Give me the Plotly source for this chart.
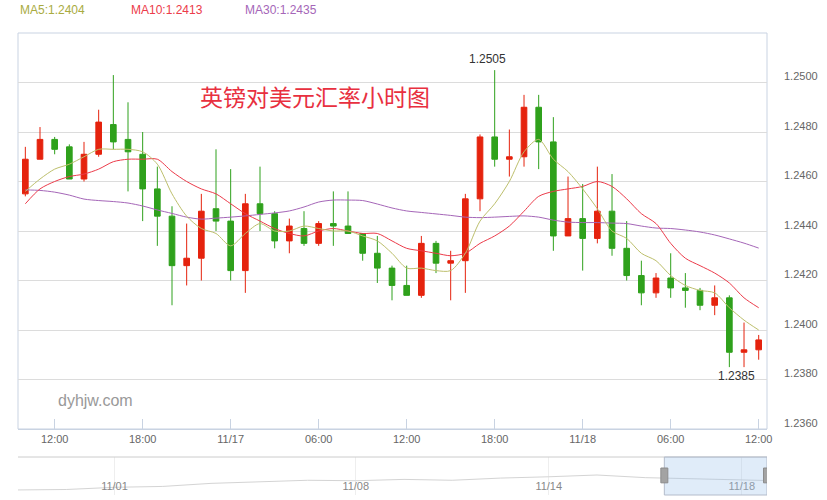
import pandas as pd
import plotly.graph_objects as go

# ---------------- data ----------------
times = pd.date_range("2016-11-16 10:00", periods=51, freq="h")

open_ = [1.2455, 1.2469, 1.2477, 1.2474, 1.2461, 1.2471, 1.2483, 1.2477, 1.2471, 1.2457,
         1.2446, 1.2426, 1.2429, 1.2449, 1.2444, 1.2424, 1.2451, 1.2447, 1.2436, 1.2441,
         1.2435, 1.2443, 1.2442, 1.2439, 1.2431, 1.2425, 1.2418, 1.2414, 1.2435, 1.2427,
         1.2428, 1.2453, 1.2478, 1.2469, 1.2470, 1.2490, 1.2476, 1.2438, 1.2445, 1.2437,
         1.2448, 1.2433, 1.2422, 1.2415, 1.2421, 1.2417, 1.2416, 1.2410, 1.2413, 1.2391, 1.2392]
high = [1.2474, 1.2482, 1.2478, 1.2475, 1.2476, 1.2489, 1.2503, 1.2492, 1.2480, 1.2466,
        1.2450, 1.2443, 1.2455, 1.2473, 1.2465, 1.2455, 1.2466, 1.2448, 1.2445, 1.2448,
        1.2444, 1.2456, 1.2456, 1.2439, 1.2438, 1.2426, 1.2426, 1.2438, 1.2436, 1.2432,
        1.2455, 1.2479, 1.2505, 1.2481, 1.2495, 1.2495, 1.2486, 1.2462, 1.2459, 1.2466,
        1.2463, 1.2444, 1.2428, 1.2423, 1.2431, 1.2423, 1.2417, 1.2418, 1.2414, 1.2403, 1.2398]
low = [1.2454, 1.2469, 1.2471, 1.2461, 1.2460, 1.2470, 1.2473, 1.2456, 1.2444, 1.2434,
       1.2410, 1.2418, 1.2420, 1.2440, 1.2420, 1.2415, 1.2440, 1.2433, 1.2431, 1.2434,
       1.2434, 1.2434, 1.2439, 1.2428, 1.2419, 1.2412, 1.2414, 1.2413, 1.2423, 1.2412,
       1.2415, 1.2448, 1.2466, 1.2462, 1.2466, 1.2465, 1.2432, 1.2438, 1.2424, 1.2435,
       1.2430, 1.2420, 1.2410, 1.2413, 1.2413, 1.2409, 1.2408, 1.2406, 1.2385, 1.2385, 1.2388]
close = [1.2469, 1.2477, 1.2473, 1.2461, 1.2471, 1.2484, 1.2476, 1.2472, 1.2457, 1.2446,
         1.2426, 1.2429, 1.2448, 1.2444, 1.2424, 1.2451, 1.2447, 1.2436, 1.2442, 1.2435,
         1.2443, 1.2442, 1.2439, 1.2431, 1.2425, 1.2418, 1.2414, 1.2435, 1.2427, 1.2428,
         1.2453, 1.2478, 1.2469, 1.2470, 1.2490, 1.2476, 1.2438, 1.2445, 1.2437, 1.2448,
         1.2433, 1.2422, 1.2415, 1.2421, 1.2417, 1.2416, 1.2410, 1.2413, 1.2391, 1.2392, 1.2396]

ma5 = [1.2456, 1.2461, 1.2465, 1.2467, 1.2470, 1.2473, 1.2473, 1.2473, 1.2472, 1.2467,
       1.2455, 1.2446, 1.2441, 1.2439, 1.2434, 1.2439, 1.2443, 1.2440, 1.2440, 1.2442,
       1.2441, 1.2440, 1.2440, 1.2438, 1.2436, 1.2431, 1.2425, 1.2425, 1.2424, 1.2424,
       1.2431, 1.2444, 1.2451, 1.2460, 1.2472, 1.2477, 1.2469, 1.2464, 1.2457, 1.2449,
       1.2440, 1.2437, 1.2431, 1.2428, 1.2422, 1.2418, 1.2416, 1.2415, 1.2409, 1.2404, 1.2400]
ma10 = [1.2451, 1.2457, 1.2460, 1.2462, 1.2463, 1.2465, 1.2468, 1.2469, 1.2469, 1.2469,
        1.2464, 1.2460, 1.2457, 1.2455, 1.2451, 1.2447, 1.2444, 1.2441, 1.2439, 1.2438,
        1.2440, 1.2441, 1.2440, 1.2439, 1.2439, 1.2436, 1.2433, 1.2432, 1.2431, 1.2430,
        1.2431, 1.2435, 1.2438, 1.2442, 1.2448, 1.2454, 1.2456, 1.2457, 1.2458, 1.2460,
        1.2458, 1.2453, 1.2447, 1.2443, 1.2435, 1.2429, 1.2426, 1.2423, 1.2419, 1.2413, 1.2409]
ma30 = [1.24566, 1.24564, 1.24557, 1.24545, 1.24529, 1.24523, 1.24519, 1.24513, 1.24501, 1.24485,
        1.24471, 1.24456, 1.24448, 1.24452, 1.24456, 1.24461, 1.24467, 1.24473, 1.24481, 1.24497,
        1.24517, 1.24525, 1.24525, 1.24523, 1.24509, 1.24493, 1.24481, 1.24475, 1.24469, 1.24463,
        1.24456, 1.24454, 1.24456, 1.24459, 1.24461, 1.24456, 1.24444, 1.24436, 1.24434, 1.24434,
        1.24432, 1.24430, 1.24420, 1.24412, 1.24410, 1.24404, 1.24396, 1.24384, 1.24368, 1.24351, 1.24331]

legend_labels = ["MA5:1.2404", "MA10:1.2413", "MA30:1.2435"]

x_tick_vals = ["2016-11-16 12:00", "2016-11-16 18:00", "2016-11-17 00:00", "2016-11-17 06:00",
               "2016-11-17 12:00", "2016-11-17 18:00", "2016-11-18 00:00", "2016-11-18 06:00",
               "2016-11-18 12:00"]
x_tick_text = ["12:00", "18:00", "11/17", "06:00", "12:00", "18:00", "11/18", "06:00", "12:00"]

y_tick_vals = [1.2360, 1.2380, 1.2400, 1.2420, 1.2440, 1.2460, 1.2480, 1.2500]

nav_dates = ["2016-10-28", "2016-10-31", "2016-11-01", "2016-11-02", "2016-11-03", "2016-11-04",
             "2016-11-07", "2016-11-08", "2016-11-09", "2016-11-10", "2016-11-11", "2016-11-14",
             "2016-11-15", "2016-11-16", "2016-11-17", "2016-11-18 12:00"]
nav_vals = [1.2180, 1.2190, 1.2240, 1.2260, 1.2330, 1.2370, 1.2400, 1.2390, 1.2420, 1.2400,
            1.2450, 1.2480, 1.2520, 1.2460, 1.2440, 1.2395]
nav_tick_vals = ["2016-11-01", "2016-11-08", "2016-11-14", "2016-11-18"]
nav_tick_text = ["11/01", "11/08", "11/14", "11/18"]

title_text = "英镑对美元汇率小时图"
watermark = "dyhjw.com"

# ---------------- style ----------------
RED = "#e5230e"
GREEN = "#2fa11c"
C_MA5 = "#a9ab3f"
C_MA5_LINE = "#bdbf6c"
C_MA10 = "#ec3b4a"
C_MA30 = "#a566b8"
GRID = "#dcdcdc"
BORDER = "#c9d3e2"
TXT = "#666666"

view_start = "2016-11-16 09:30"
view_end = "2016-11-18 12:34"
nav_start = "2016-10-28 00:00"

fig = go.Figure()

for vals, col in [(ma30, C_MA30), (ma10, C_MA10), (ma5, C_MA5_LINE)]:
    fig.add_trace(go.Scatter(x=times, y=vals, mode="lines",
                             line=dict(color=col, width=1, shape="spline", smoothing=0.8),
                             hoverinfo="skip"))

fig.add_trace(go.Candlestick(
    x=times, open=open_, high=high, low=low, close=close,
    increasing=dict(line=dict(color=RED, width=1), fillcolor=RED),
    decreasing=dict(line=dict(color=GREEN, width=1), fillcolor=GREEN),
    whiskerwidth=0, hoverinfo="skip"))

fig.add_trace(go.Scatter(x=nav_dates, y=nav_vals, mode="lines", xaxis="x2", yaxis="y2",
                         line=dict(color="#d4d4d4", width=1), hoverinfo="skip"))

i_max = high.index(max(high))
i_min = low.index(min(low))

annotations = [
    dict(text=legend_labels[0], xref="paper", yref="paper", x=0, y=1, xanchor="left",
         yanchor="middle", xshift=0, yshift=23, showarrow=False, font=dict(color=C_MA5, size=12)),
    dict(text=legend_labels[1], xref="paper", yref="paper", x=0, y=1, xanchor="left",
         yanchor="middle", xshift=111, yshift=23, showarrow=False, font=dict(color=C_MA10, size=12)),
    dict(text=legend_labels[2], xref="paper", yref="paper", x=0, y=1, xanchor="left",
         yanchor="middle", xshift=225, yshift=23, showarrow=False, font=dict(color=C_MA30, size=12)),
    dict(text=title_text, xref="x domain", yref="y domain", x=0.396, y=0.84,
         xanchor="center", yanchor="middle",
         showarrow=False, font=dict(family="Noto Sans CJK SC", color="#e8303f", size=23)),
    dict(text=watermark, xref="x domain", yref="y domain", x=0.103, y=0.073,
         xanchor="center", yanchor="middle",
         showarrow=False, font=dict(color="#999999", size=16)),
    dict(text=f"{high[i_max]:.4f}", x=times[i_max], y=high[i_max], xref="x", yref="y",
         yanchor="bottom", xshift=-7, yshift=2, showarrow=False, font=dict(color="#333333", size=12)),
    dict(text=f"{low[i_min]:.4f}", x=times[i_min], y=low[i_min], xref="x", yref="y",
         yanchor="top", xshift=7, yshift=0, showarrow=False, font=dict(color="#333333", size=12)),
]

shapes = [
    dict(type="rect", xref="x domain", yref="y domain", x0=0, x1=1, y0=0, y1=1,
         line=dict(color=BORDER, width=1), layer="below"),
    dict(type="line", xref="x2 domain", yref="y2 domain", x0=0, x1=1, y0=1, y1=1,
         line=dict(color="#cccccc", width=1)),
    dict(type="rect", xref="x2", yref="y2 domain", x0=view_start, x1=view_end, y0=0, y1=1,
         fillcolor="rgba(160,195,235,0.32)", line=dict(color="#b4bccb", width=1)),
]
for edge in (view_start, view_end):
    shapes.append(dict(type="rect", xref="x2", yref="y2 domain", xsizemode="pixel",
                       xanchor=edge, x0=-3.5, x1=3.5, y0=0.32, y1=0.71,
                       fillcolor="#a3a3a3", line=dict(color="#8c8c8c", width=1)))

fig.update_layout(
    width=827, height=500,
    margin=dict(l=18, r=60, t=33, b=5),
    paper_bgcolor="white", plot_bgcolor="white",
    showlegend=False,
    font=dict(family="Liberation Sans, Arial, sans-serif", color=TXT, size=11),
    boxgap=0.45,
    xaxis=dict(type="date", range=[view_start, view_end], domain=[0, 1], anchor="y",
               tickvals=x_tick_vals, ticktext=x_tick_text, ticks="inside", ticklen=10,
               tickcolor=BORDER, showgrid=False, showline=True, linecolor=BORDER,
               tickfont=dict(size=11, color=TXT), rangeslider=dict(visible=False),
               zeroline=False, fixedrange=True),
    yaxis=dict(domain=[0.14286, 1], anchor="x", side="right", range=[1.2360, 1.2520],
               tickmode="array", tickvals=y_tick_vals, tickformat=".4f",
               showgrid=True, gridcolor=GRID,
               zeroline=False, showline=False, ticks="", ticklabelstandoff=16,
               ticklabelshift=-6, tickfont=dict(size=11, color=TXT), fixedrange=True),
    xaxis2=dict(type="date", domain=[0, 1], anchor="y2", range=[nav_start, view_end],
                rangebreaks=[dict(bounds=["sat", "mon"])],
                tickvals=nav_tick_vals, ticktext=nav_tick_text, ticklabelposition="inside",
                showgrid=True, gridcolor="#eeeeee", showline=False, ticks="",
                zeroline=False, tickfont=dict(size=11, color="#888888"), fixedrange=True),
    yaxis2=dict(domain=[0, 0.08225], anchor="x2", range=[1.2065, 1.2930],
                showticklabels=False, showgrid=False, zeroline=False, fixedrange=True),
    annotations=annotations,
    shapes=shapes,
)

fig.write_html("out.html", config={"displayModeBar": False},
               post_script="document.body.style.margin='0px';document.body.style.overflow='hidden';")
